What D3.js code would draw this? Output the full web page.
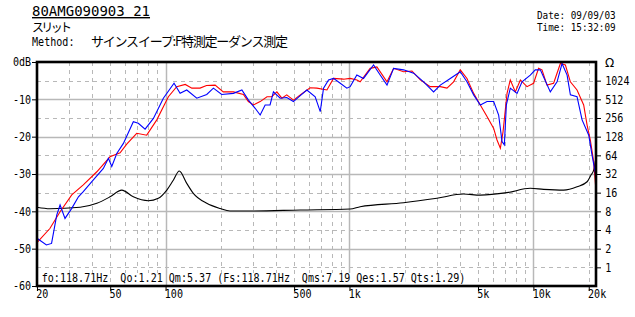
<!DOCTYPE html>
<html>
<head>
<meta charset="utf-8">
<script src="https://cdn.jsdelivr.net/npm/d3@7"></script>
<style>
body{margin:0;background:#fff;}
svg{display:block;}
</style>
</head>
<body>
<script>
//sound pressure, red trace (Hz / dB)
var redFreq = [20,23.5,26.7,30.9,35.7,42.3,49.9,56.6,61.5,69.7,79,89.6,103.6,115,128,139,154,167,186,206,234,265,282,301,327,356,378,403,429,456,496,540,611,665,754,819,928,1009,1097,1143,1296,1410,1600,1738,1968,2187,2428,2749,3118,3390,3683,4003,4354,4733,5145,5596,6082,6342,6614,6838,7190,7490,7979,8494,9230,10024,10670,11140,11860,12880,14020,14930,15890,17270,18770,19590,20400,21270,21900];
var redDb = [-48.4,-44.6,-40.1,-35.6,-32.9,-29.4,-25.4,-24.3,-22,-19.1,-19.6,-15.5,-9.3,-6.6,-6.0,-7.0,-7.0,-6.3,-6.2,-8.0,-8.0,-8.7,-10.6,-11.5,-10.6,-9.3,-9.3,-8.0,-9.7,-8.8,-10.2,-8.8,-6.9,-7.0,-7.5,-4.4,-4.6,-4.4,-4.8,-5.3,-1.7,-1.3,-5.3,-1.7,-2.6,-2.4,-4.8,-6.6,-6.6,-7.0,-5.3,-2.1,-4.4,-8.4,-11.5,-14.6,-17.8,-20.9,-23.1,-18.7,-8.4,-4.8,-8.0,-4.8,-6.6,-5.7,-1.7,-2.1,-6.2,-5.7,-0.4,-0.8,-5.3,-7.5,-11.5,-16.9,-20.9,-26.7,-34.5];

//sound pressure, blue trace
var blueFreq = [20,22.5,24,25.6,26.7,28.4,30.9,33.6,35.7,40.5,45.9,48.9,51,54.3,59,66.8,71.1,77.4,85.9,97.3,111.2,120,130.4,147.8,167.5,182,202,233.9,260,282.4,307,326.9,348,370,386,420,456,495.9,540,586.5,651,693.6,722.8,769.5,818.8,891.2,967.8,1009,1097,1192,1352,1469,1600,1738,1968,2233,2530,2866,3118,3533,4003,4354,4733,5145,5596,6082,6473,6754,6952,7129,7490,8149,8673,9620,10240,10910,12360,13450,14320,15250,15890,17270,18400,20000,20830,21720,21900];
var blueDb = [-47.2,-49,-48.6,-41,-38.3,-41.9,-39.2,-36.1,-34.7,-31.6,-28.5,-25.8,-28,-24.5,-21.8,-16,-16.4,-18,-15.1,-9.7,-5.7,-8.4,-7.5,-9.7,-8.7,-7.0,-8.7,-8.4,-7.5,-10.2,-12.4,-14.2,-11.5,-11.5,-8,-9.7,-9.5,-10.6,-9.0,-7.5,-9.3,-13.3,-7.0,-4.8,-4.4,-5.7,-7.0,-6.6,-3.5,-4.4,-0.8,-3.5,-6.2,-1.7,-2.1,-3.0,-5.3,-8.0,-6.2,-4.4,-2.6,-5.3,-8.8,-11.5,-10.6,-10.6,-14.2,-21.3,-22.2,-11.5,-7.0,-8.4,-5.3,-3.5,-2.1,-2.1,-8.0,-5.3,-0.4,-3.5,-8.8,-9.3,-15.5,-19.6,-24.9,-29.8,-33.8];

//impedance, black trace (Hz / ohm)
var impFreq = [20,23.5,34.3,42.3,49.9,57.8,66.8,80.6,91.4,101.6,110.4,118.7,130.4,141.6,167.5,198,224,288,540,1009,1143,1968,2990,4170,5145,7190,9620,11370,14600,17270,19590,20570,21270,21900];
var impOhm = [9.3,8.8,9.3,10.8,13.7,17.6,13.7,11.85,13.0,17.6,25.6,35.7,22.6,15.6,10.8,8.9,8.1,8.1,8.4,8.7,9.5,11,13,15.2,14.6,16,18.8,18.1,17.6,19.9,24,30.8,37,60];

//axis ticks and grid
var freqTicks = [20,50,100,500,1000,5000,10000,20000];
var dbTicks = [0,-10,-20,-30,-40,-50,-60];
var ohmTicks = [1,2,4,8,16,32,64,128,256,512,1024];
var gridMajorX = [100,1000,10000];
var gridMinorX = [30,40,50,60,70,80,90,200,300,400,500,600,700,800,900,2000,3000,4000,5000,6000,7000,8000,9000,20000];
var gridMajorY = [-10,-20,-30,-40,-50];
var gridMinorY = [-5,-15,-25,-35,-45,-55];

//header texts
var titleText = "80AMG090903 21";
var subText = "スリット";
var methodLabel = "Method:";
var methodText = "サインスイープ:F特測定ーダンス測定";
var dateText = "Date: 09/09/03";
var timeText = "Time: 15:32:09";
var paramText = "fo:118.71Hz  Qo:1.21 Qm:5.37 (Fs:118.71Hz  Qms:7.19 Qes:1.57 Qts:1.29)";

(function(){
	var width = 635, height = 317;
	var left = 37, right = 596, top = 62, bottom = 286;
	var mono = "'DejaVu Sans Mono', monospace";
	var gridColor = "#b8b8b8";

	var svg = d3.select("body").append("svg")
		.attr("width", width)
		.attr("height", height);
	svg.append("rect").attr("width", width).attr("height", height).attr("fill", "#fff");

	//scales
	var x = d3.scaleLog().domain([20, 21900]).range([left, right]);
	var y = d3.scaleLinear().domain([-60, 0]).range([bottom, top]);
	var z = d3.scaleLog().base(2).domain([0.5, 2048]).range([bottom, top]);

	//grid lines
	var grid = svg.append("g");
	grid.selectAll(".vmin").data(gridMinorX).enter().append("line")
		.attr("x1", function(d){ return Math.round(x(d)) + 0.5; })
		.attr("x2", function(d){ return Math.round(x(d)) + 0.5; })
		.attr("y1", top).attr("y2", bottom)
		.attr("stroke", gridColor).attr("stroke-dasharray", "4,4");
	grid.selectAll(".vmaj").data(gridMajorX).enter().append("line")
		.attr("x1", function(d){ return Math.round(x(d)) + 0.5; })
		.attr("x2", function(d){ return Math.round(x(d)) + 0.5; })
		.attr("y1", top).attr("y2", bottom)
		.attr("stroke", gridColor).attr("stroke-width", 1.5);
	grid.selectAll(".hmin").data(gridMinorY).enter().append("line")
		.attr("y1", function(d){ return Math.round(y(d)) + 0.5; })
		.attr("y2", function(d){ return Math.round(y(d)) + 0.5; })
		.attr("x1", left).attr("x2", right)
		.attr("stroke", gridColor).attr("stroke-dasharray", "4,4");
	grid.selectAll(".hmaj").data(gridMajorY).enter().append("line")
		.attr("y1", function(d){ return Math.round(y(d)) + 0.5; })
		.attr("y2", function(d){ return Math.round(y(d)) + 0.5; })
		.attr("x1", left).attr("x2", right)
		.attr("stroke", gridColor).attr("stroke-width", 1.5);

	//parameter line inside the plot, white behind every word
	var tokens = [], pos = 0;
	paramText.split(" ").forEach(function(t){
		if (t.length) tokens.push({t: t, i: pos});
		pos += t.length + 1;
	});
	var adv = 6.05, px0 = 41.7;
	var params = svg.append("g");
	params.selectAll("rect").data(tokens).enter().append("rect")
		.attr("x", function(d){ return px0 + d.i * adv - 1; })
		.attr("y", 273)
		.attr("width", function(d){ return d.t.length * adv + 2; })
		.attr("height", 12)
		.attr("fill", "#fff");
	params.selectAll("text").data(tokens).enter().append("text")
		.attr("transform", function(d){ return "translate(" + (px0 + d.i * adv) + ",282) scale(0.84,1)"; })
		.attr("font-family", mono).attr("font-size", 12)
		.text(function(d){ return d.t; });

	//traces
	svg.append("clipPath").attr("id", "plotclip")
		.append("rect").attr("x", left).attr("y", top).attr("width", right - left).attr("height", bottom - top);
	var plot = svg.append("g").attr("clip-path", "url(#plotclip)");

	var dbLine = d3.line()
		.x(function(d){ return x(d[0]); })
		.y(function(d){ return y(d[1]); });
	var ohmLine = d3.line()
		.x(function(d){ return x(d[0]); })
		.y(function(d){ return z(d[1]); })
		.curve(d3.curveMonotoneX);

	plot.append("path").datum(d3.zip(impFreq, impOhm))
		.attr("d", ohmLine).attr("fill", "none").attr("stroke", "#000").attr("stroke-width", 1.1);
	plot.append("path").datum(d3.zip(redFreq, redDb))
		.attr("d", dbLine).attr("fill", "none").attr("stroke", "#ff0000").attr("stroke-width", 1.1);
	plot.append("path").datum(d3.zip(blueFreq, blueDb))
		.attr("d", dbLine).attr("fill", "none").attr("stroke", "#0000ff").attr("stroke-width", 1.1);

	//axes
	function fmtHz(d){ return d >= 1000 ? (d / 1000) + "k" : String(d); }

	var xAxis = svg.append("g")
		.attr("transform", "translate(0," + bottom + ")")
		.call(d3.axisBottom(x).tickValues(freqTicks).tickFormat(fmtHz).tickSize(5));
	xAxis.selectAll("text")
		.attr("y", 3).attr("x", -1.5).attr("text-anchor", "start")
		.attr("transform", "scale(0.84,1)");

	var yAxis = svg.append("g")
		.attr("transform", "translate(" + left + ",0)")
		.call(d3.axisLeft(y).tickValues(dbTicks).tickSize(5).tickPadding(2)
			.tickFormat(function(d){ return d === 0 ? "0dB" : String(d); }));
	yAxis.selectAll("text").attr("transform", "scale(0.84,1)");

	var zAxis = svg.append("g")
		.attr("transform", "translate(" + right + ",0)")
		.call(d3.axisRight(z).tickValues(ohmTicks).tickSize(5).tickPadding(6)
			.tickFormat(d3.format("d")));
	zAxis.selectAll("text").attr("transform", "scale(0.84,1)");

	[xAxis, yAxis, zAxis].forEach(function(a){
		a.select(".domain").remove();
		a.selectAll("line").attr("stroke", "#000");
		a.selectAll("text").attr("font-family", mono).attr("font-size", 12).attr("fill", "#000");
	});

	svg.append("text")
		.attr("x", 605).attr("y", 67)
		.attr("font-family", "'DejaVu Sans', sans-serif").attr("font-size", 12)
		.text("Ω");

	//plot frame
	svg.append("rect")
		.attr("x", left).attr("y", top)
		.attr("width", right - left).attr("height", bottom - top)
		.attr("fill", "none").attr("stroke", "#000").attr("stroke-width", 2.6);

	//header
	svg.append("text")
		.attr("x", 32).attr("y", 16)
		.attr("font-family", mono).attr("font-size", 14)
		.attr("text-decoration", "underline")
		.text(titleText);
	svg.append("text")
		.attr("x", 32).attr("y", 32)
		.attr("font-family", "'Noto Sans CJK JP', sans-serif").attr("font-size", 12)
		.attr("textLength", 40).attr("lengthAdjust", "spacing")
		.text(subText);
	svg.append("text")
		.attr("transform", "translate(32,46) scale(0.84,1)")
		.attr("font-family", mono).attr("font-size", 12)
		.text(methodLabel);
	svg.append("text")
		.attr("x", 91).attr("y", 46)
		.attr("font-family", "'Noto Sans CJK JP', sans-serif").attr("font-size", 13)
		.attr("textLength", 197).attr("lengthAdjust", "spacing")
		.text(methodText);

	svg.append("text")
		.attr("transform", "translate(537,19) scale(0.89,1)")
		.attr("font-family", mono).attr("font-size", 10.5)
		.text(dateText);
	svg.append("text")
		.attr("transform", "translate(537,31) scale(0.89,1)")
		.attr("font-family", mono).attr("font-size", 10.5)
		.text(timeText);
})();
</script>
</body>
</html>
